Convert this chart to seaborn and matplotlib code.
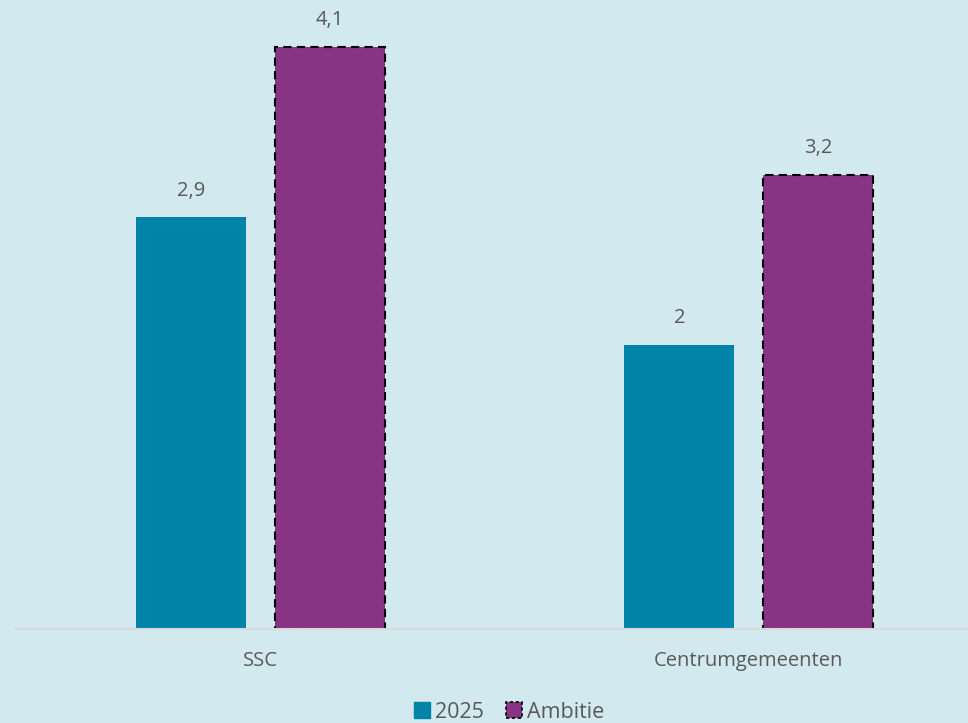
import matplotlib
matplotlib.use("Agg")
import matplotlib.pyplot as plt
import seaborn as sns
import pandas as pd
from matplotlib.patches import Patch

categories = ["SSC", "Centrumgemeenten"]
series = ["2025", "Ambitie"]
values_2025 = [2.9, 2.0]
values_ambitie = [4.1, 3.2]

df = pd.DataFrame({
    "cat": categories * 2,
    "serie": [series[0]] * 2 + [series[1]] * 2,
    "val": values_2025 + values_ambitie,
})

bg = "#D2E9F0"
teal = "#0083A9"
purple = "#873485"
txt = "#595959"

sns.set_theme(style="white")
plt.rcParams['font.family'] = ['Open Sans', 'DejaVu Sans']

fig = plt.figure(figsize=(9.68, 7.23), dpi=100, facecolor=bg)
W, H = 968, 723
x0, x1 = 16, 993
y_base, y_top = 629, 0
ax = fig.add_axes([x0 / W, 1 - y_base / H, (x1 - x0) / W, (y_base - y_top) / H])
ax.set_facecolor(bg)

sns.barplot(data=df, x="cat", y="val", hue="serie", order=categories,
            hue_order=series, palette=[teal, purple], width=0.568, gap=0.208,
            saturation=1, ax=ax, legend=False)

ax.set_xlim(-0.5, 1.5)
ax.set_ylim(0, 629 / 142)

for i, cont in enumerate(ax.containers):
    for bar in cont:
        if i == 1:
            bar.set_edgecolor("black")
            bar.set_linestyle((0, (4, 2.5)))
            bar.set_linewidth(1.5)
        else:
            bar.set_linewidth(0)
    labels = [f"{v:g}".replace(".", ",") for v in cont.datavalues]
    ax.bar_label(cont, labels=labels, padding=12, fontsize=14.5, color=txt)

for s in ["top", "right", "left"]:
    ax.spines[s].set_visible(False)
ax.spines["bottom"].set_color("#D9D9D9")
ax.spines["bottom"].set_linewidth(1.5)
ax.set_yticks([])
ax.set_xlabel("")
ax.set_ylabel("")
ax.tick_params(axis="x", length=0, labelsize=14.5, labelcolor=txt, pad=16)

handles = [Patch(facecolor=teal, edgecolor=teal, label=series[0]),
           Patch(facecolor=purple, edgecolor="black", linestyle=(0, (2, 1.5)), linewidth=1.2, label=series[1])]
fig.legend(handles=handles, loc="center", bbox_to_anchor=(509 / W, 1 - 712 / H),
           ncol=2, frameon=False, fontsize=15.5, handlelength=0.75, handleheight=0.75,
           handletextpad=0.25, columnspacing=1.0, labelcolor=txt)

fig.savefig("out.png", dpi=100, facecolor=bg)
